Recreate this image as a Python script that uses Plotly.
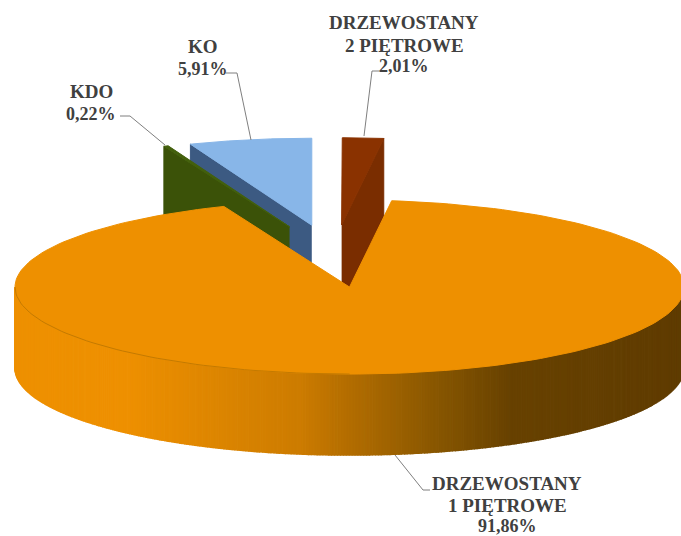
import numpy as np
import plotly.graph_objects as go

categories = ["DRZEWOSTANY 1 PIĘTROWE", "KDO", "KO", "DRZEWOSTANY 2 PIĘTROWE"]
percent_labels = ["91,86%", "0,22%", "5,91%", "2,01%"]
values = [91.86, 0.22, 5.91, 2.01]

first_angle = 7.24
explosion = 0.36
CX, CY, RX, RY, DEPTH = 334.0, 256.0, 334.5, 87.0, 81.0

TOP = ["#EE9000", "#43600C", "#88B6E8", "#8A3200"]
WALL = ["#C47A00", "#3B5208", "#3C5A82", "#7A2D00"]
GRAD_X = [0, 130, 300, 340, 440, 510, 681]
GRAD_R = [238, 238, 205, 184, 135, 104, 96]
GRAD_G = [144, 144, 124, 112, 86, 66, 60]
GRAD_B = [0, 0, 0, 0, 0, 0, 0]

fig = go.Figure()


def poly(xs, ys, fill, line=None, width=1):
    fig.add_trace(go.Scatter(
        x=list(xs), y=list(ys), mode="lines", fill="toself", fillcolor=fill,
        line=dict(color=line or fill, width=width), hoverinfo="skip", showlegend=False))


def centre(a0, a1):
    mid = np.radians((a0 + a1) / 2)
    return CX + explosion * RX * np.sin(mid), CY - explosion * RY * np.cos(mid)


def rim(cx, cy, a0, a1, n=120):
    t = np.radians(np.linspace(a0, a1, n))
    return cx + RX * np.sin(t), cy - RY * np.cos(t)


spans = []
a = first_angle
for v in values:
    b = a + v * 3.6
    spans.append((a, b))
    a = b


def wall(i, angle):
    a0, a1 = spans[i]
    cx, cy = centre(a0, a1)
    ex, ey = rim(cx, cy, angle, angle, 1)
    poly([cx, ex[0], ex[0], cx], [cy, ey[0], ey[0] + DEPTH, cy + DEPTH], WALL[i])


def top(i):
    a0, a1 = spans[i]
    cx, cy = centre(a0, a1)
    xs, ys = rim(cx, cy, a0, a1, 200)
    poly(np.r_[cx, xs, cx], np.r_[cy, ys, cy], TOP[i])


# back to front: 2-storey stand, KO, KDO, main slice
wall(3, spans[3][1])
top(3)
wall(2, spans[2][0])
top(2)
wall(1, spans[1][0])
top(1)

# main slice: side wall in strips shaded by horizontal position
a0, a1 = spans[0]
mx, my = centre(a0, a1)
angles = np.arange(90, 270.01, 0.5)
for s, e in zip(angles[:-1], angles[1:]):
    xs, ys = rim(mx, my, s, e, 2)
    xm = xs.mean()
    colour = "rgb(%d,%d,%d)" % (np.interp(xm, GRAD_X, GRAD_R),
                                np.interp(xm, GRAD_X, GRAD_G),
                                np.interp(xm, GRAD_X, GRAD_B))
    poly(np.r_[xs, xs[::-1]], np.r_[ys, ys[::-1] + DEPTH], colour, width=1.5)
top(0)
xs, ys = rim(mx, my, 180, 270, 60)
fig.add_trace(go.Scatter(x=xs, y=ys, mode="lines", line=dict(color="#C47A00", width=1),
                         hoverinfo="skip", showlegend=False))

# leader lines
leaders = [
    ([395, 423, 430], [455, 490, 490]),
    ([120, 130, 165], [116, 116, 145]),
    ([226, 237, 251], [73, 73, 140]),
    ([381, 372, 364], [71, 71, 136]),
]
for lx, ly in leaders:
    fig.add_trace(go.Scatter(x=lx, y=ly, mode="lines", line=dict(color="#7F7F7F", width=1),
                             hoverinfo="skip", showlegend=False))

# labels
label_lines = [
    ["DRZEWOSTANY", "1 PIĘTROWE", percent_labels[0]],
    ["KDO", percent_labels[1]],
    ["KO", percent_labels[2]],
    ["DRZEWOSTANY", "2 PIĘTROWE", percent_labels[3]],
]
label_x = [507, 91, 203, 404]
label_y = [[483, 505, 526], [91, 114], [46, 69], [22, 45, 66]]
for lines, lx, lys in zip(label_lines, label_x, label_y):
    for text, ly in zip(lines, lys):
        fig.add_annotation(x=lx, y=ly, text="<b>%s</b>" % text, showarrow=False,
                           xanchor="center", yanchor="middle",
                           font=dict(family="Liberation Serif", size=18 if "%" in text else 19,
                                     color="#404040"))

fig.update_layout(
    width=681, height=536, margin=dict(l=0, r=0, t=0, b=0),
    paper_bgcolor="white", plot_bgcolor="white", showlegend=False,
    xaxis=dict(range=[0, 681], visible=False, fixedrange=True),
    yaxis=dict(range=[536, 0], visible=False, fixedrange=True),
)
fig.write_html("out.html", config=dict(displayModeBar=False),
               post_script="document.body.style.margin='0';document.body.style.overflow='hidden';")
